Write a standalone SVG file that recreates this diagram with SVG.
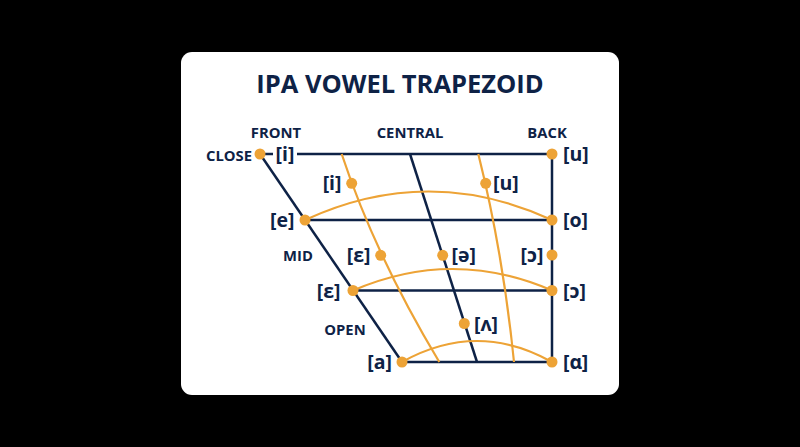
<svg xmlns="http://www.w3.org/2000/svg" width="800" height="447" viewBox="0 0 800 447">
<defs>
<style>
.nv{stroke:#0e2246;stroke-width:2.5;fill:none;stroke-linecap:butt}
.or{stroke:#eda336;stroke-width:2.2;fill:none}
.dot{fill:#eda336}
text{font-family:"Open Sans","Noto Sans","Liberation Sans",sans-serif;font-weight:700;fill:#0e2246}
.ax{font-size:14.8px}
.ph{font-size:19.5px}
.ttl{font-size:25.5px}
</style>
</defs>
<rect width="800" height="447" fill="#000"/>
<rect x="181" y="52" width="438" height="343" rx="11" fill="#fff"/>
<text class="ttl" x="400" y="93" text-anchor="middle">IPA VOWEL TRAPEZOID</text>
<g id="axis-labels">
<text class="ax" x="276" y="138" text-anchor="middle">FRONT</text>
<text class="ax" x="410" y="138" text-anchor="middle">CENTRAL</text>
<text class="ax" x="547" y="138" text-anchor="middle">BACK</text>
<text class="ax" x="252" y="161" text-anchor="end">CLOSE</text>
<text class="ax" x="298" y="261" text-anchor="middle">MID</text>
<text class="ax" x="345" y="334.5" text-anchor="middle">OPEN</text>
</g>
<g id="connectors">
<line class="nv" x1="260" y1="154" x2="273" y2="154"/>
<line class="nv" x1="297" y1="154" x2="552" y2="154"/>
<line class="nv" x1="305" y1="220" x2="552" y2="220"/>
<line class="nv" x1="353" y1="290.5" x2="552" y2="290.5"/>
<line class="nv" x1="402" y1="362" x2="552" y2="362"/>
<line class="nv" x1="552" y1="154" x2="552" y2="362"/>
<line class="nv" x1="260" y1="154" x2="402" y2="362"/>
<line class="nv" x1="410" y1="154" x2="477" y2="362"/>
<path class="or" d="M341.7 154 Q375 255 439.3 362"/>
<path class="or" d="M478.3 154 Q503 253 514 362"/>
<path class="or" d="M305 220 Q428.5 163 552 220"/>
<path class="or" d="M353 290.5 Q452.5 247.5 552 290.5"/>
<path class="or" d="M402 362 Q477 320 552 362"/>
</g>
<g id="node-close-front"><circle class="dot" cx="260" cy="154" r="5.5"/><text class="ph" x="275.5" y="161">[i]</text></g>
<g id="node-close-back"><circle class="dot" cx="552" cy="154" r="5.5"/><text class="ph" x="563" y="161">[u]</text></g>
<g id="node-close-central-i"><circle class="dot" cx="351.7" cy="183.3" r="5.5"/><text class="ph" x="341.5" y="190.3" text-anchor="end">[i]</text></g>
<g id="node-close-central-u"><circle class="dot" cx="485.7" cy="183.3" r="5.5"/><text class="ph" x="493" y="190.3">[u]</text></g>
<g id="node-e"><circle class="dot" cx="305" cy="220" r="5.5"/><text class="ph" x="294.5" y="227" text-anchor="end">[e]</text></g>
<g id="node-o"><circle class="dot" cx="552" cy="220" r="5.5"/><text class="ph" x="563" y="227">[o]</text></g>
<g id="node-mid-epsilon"><circle class="dot" cx="380.7" cy="255.3" r="5.5"/><text class="ph" x="370.5" y="262.3" text-anchor="end">[ɛ]</text></g>
<g id="node-schwa"><circle class="dot" cx="442.7" cy="255.3" r="5.5"/><text class="ph" x="451.5" y="262.3">[ə]</text></g>
<g id="node-mid-open-o"><circle class="dot" cx="552" cy="255" r="5.5"/><text class="ph" x="543.5" y="262.3" text-anchor="end">[ɔ]</text></g>
<g id="node-epsilon"><circle class="dot" cx="353" cy="290.5" r="5.5"/><text class="ph" x="340.5" y="297.5" text-anchor="end">[ɛ]</text></g>
<g id="node-open-o"><circle class="dot" cx="552" cy="290.5" r="5.5"/><text class="ph" x="563" y="297.5">[ɔ]</text></g>
<g id="node-wedge"><circle class="dot" cx="464.3" cy="323.5" r="5.5"/><text class="ph" x="474" y="330.5">[ʌ]</text></g>
<g id="node-a"><circle class="dot" cx="402" cy="362" r="5.5"/><text class="ph" x="392" y="369" text-anchor="end">[a]</text></g>
<g id="node-alpha"><circle class="dot" cx="552" cy="362" r="5.5"/><text class="ph" x="563" y="369">[ɑ]</text></g>
</svg>
